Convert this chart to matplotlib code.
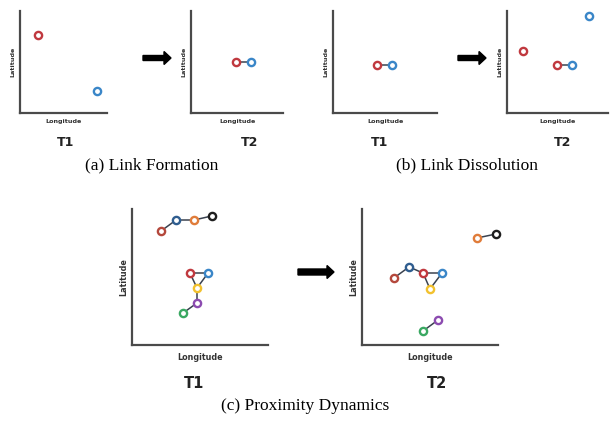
import matplotlib
matplotlib.use("Agg")
import matplotlib.pyplot as plt
from matplotlib.patches import FancyArrow

RED = "#c0393f"
BLUE = "#3a86c8"
DBLUE = "#2f5d8f"
ORANGE = "#e07c3a"
BLACK = "#1e1e1e"
YELLOW = "#f2c12e"
PURPLE = "#8c4bb0"
GREEN = "#3aa862"
BROWN = "#b4483c"

# node positions (longitude, latitude) in 0-100 units per panel
a1_x = [20.7, 88.5]
a1_y = [76.5, 21.6]
a1_c = [RED, BLUE]
a1_e = []

a2_x = [48.9, 65.2]
a2_y = [50.0, 50.0]
a2_c = [RED, BLUE]
a2_e = [(0, 1)]

b1_x = [42.3, 56.7]
b1_y = [47.0, 47.0]
b1_c = [RED, BLUE]
b1_e = [(0, 1)]

b2_x = [15.5, 81.6, 49.5, 64.1]
b2_y = [60.8, 95.0, 47.0, 47.0]
b2_c = [RED, BLUE, RED, BLUE]
b2_e = [(2, 3)]

c1_x = [21.3, 32.4, 45.6, 58.8, 42.6, 55.9, 47.8, 47.8, 37.5]
c1_y = [83.8, 91.9, 91.9, 94.9, 52.9, 52.9, 41.9, 30.9, 23.5]
c1_c = [BROWN, DBLUE, ORANGE, BLACK, RED, BLUE, YELLOW, PURPLE, GREEN]
c1_e = [(0, 1), (1, 2), (2, 3), (4, 5), (4, 6), (5, 6), (6, 7), (7, 8)]

c2_x = [84.6, 98.5, 23.5, 34.6, 44.9, 58.8, 50.0, 55.9, 44.9]
c2_y = [78.7, 81.6, 49.3, 57.4, 52.9, 52.9, 41.2, 18.4, 10.3]
c2_c = [ORANGE, BLACK, BROWN, DBLUE, RED, BLUE, YELLOW, PURPLE, GREEN]
c2_e = [(0, 1), (2, 3), (3, 4), (4, 5), (4, 6), (5, 6), (7, 8)]

W, H = 610, 422


def px_rect(x0, x1, ytop, ybot):
    return [x0 / W, (H - ybot) / H, (x1 - x0) / W, (ybot - ytop) / H]


def draw_panel(fig, rect, xs, ys, cols, edges, tlabel, tx, tdrop,
               lab_fs=4.6, t_fs=9, pad=4):
    ax = fig.add_axes(rect)
    ax.set_xlim(0, 100)
    ax.set_ylim(0, 100)
    ax.set_xticks([])
    ax.set_yticks([])
    for s in ("top", "right"):
        ax.spines[s].set_visible(False)
    for s in ("left", "bottom"):
        ax.spines[s].set_color("#4a4a4a")
        ax.spines[s].set_linewidth(1.6)
    for i, j in edges:
        ax.plot([xs[i], xs[j]], [ys[i], ys[j]], color="#3a4250", lw=1.1,
                zorder=2, clip_on=False)
    for x, y, c in zip(xs, ys, cols):
        ax.plot(x, y, "o", ms=5.2, mfc="white", mec=c, mew=1.7, zorder=3,
                clip_on=False)
    ax.set_xlabel("Longitude", fontsize=lab_fs, fontweight="bold",
                  color="#333333", labelpad=pad)
    ax.set_ylabel("Latitude", fontsize=lab_fs, fontweight="bold",
                  color="#333333", labelpad=3)
    ax.text(tx, -tdrop, tlabel, transform=ax.transAxes, ha="center",
            va="center", fontsize=t_fs, fontweight="bold", color="#222222")
    return ax


fig = plt.figure(figsize=(W / 100, H / 100), dpi=100)

draw_panel(fig, px_rect(20, 107, 11, 113), a1_x, a1_y, a1_c, a1_e, "T1", 0.52, 0.29)
draw_panel(fig, px_rect(191, 283, 11, 113), a2_x, a2_y, a2_c, a2_e, "T2", 0.64, 0.29)
draw_panel(fig, px_rect(333, 437, 11, 113), b1_x, b1_y, b1_c, b1_e, "T1", 0.45, 0.29)
draw_panel(fig, px_rect(507, 608, 11, 113), b2_x, b2_y, b2_c, b2_e, "T2", 0.55, 0.29)
draw_panel(fig, px_rect(132, 268, 209, 345), c1_x, c1_y, c1_c, c1_e, "T1", 0.46, 0.28,
           lab_fs=5.8, t_fs=10.5, pad=6)
draw_panel(fig, px_rect(362, 498, 209, 345), c2_x, c2_y, c2_c, c2_e, "T2", 0.55, 0.28,
           lab_fs=5.8, t_fs=10.5, pad=6)

# transition arrows
for x0, x1, y, bw in [(143, 171, 58, 5), (458, 486, 58, 5), (298, 334, 272, 6)]:
    fig.patches.append(FancyArrow(x0 / W, (H - y) / H, (x1 - x0) / W, 0,
                                  width=bw / H, head_width=13 / H,
                                  head_length=7 / W, length_includes_head=True,
                                  color="black", transform=fig.transFigure))

cap = dict(ha="center", va="center", fontsize=12.5, family="Liberation Serif")
fig.text(152 / W, 1 - 165 / H, "(a) Link Formation", **cap)
fig.text(467 / W, 1 - 165 / H, "(b) Link Dissolution", **cap)
fig.text(305 / W, 1 - 406 / H, "(c) Proximity Dynamics", **cap)

fig.savefig("out.png", dpi=100, facecolor="white")
